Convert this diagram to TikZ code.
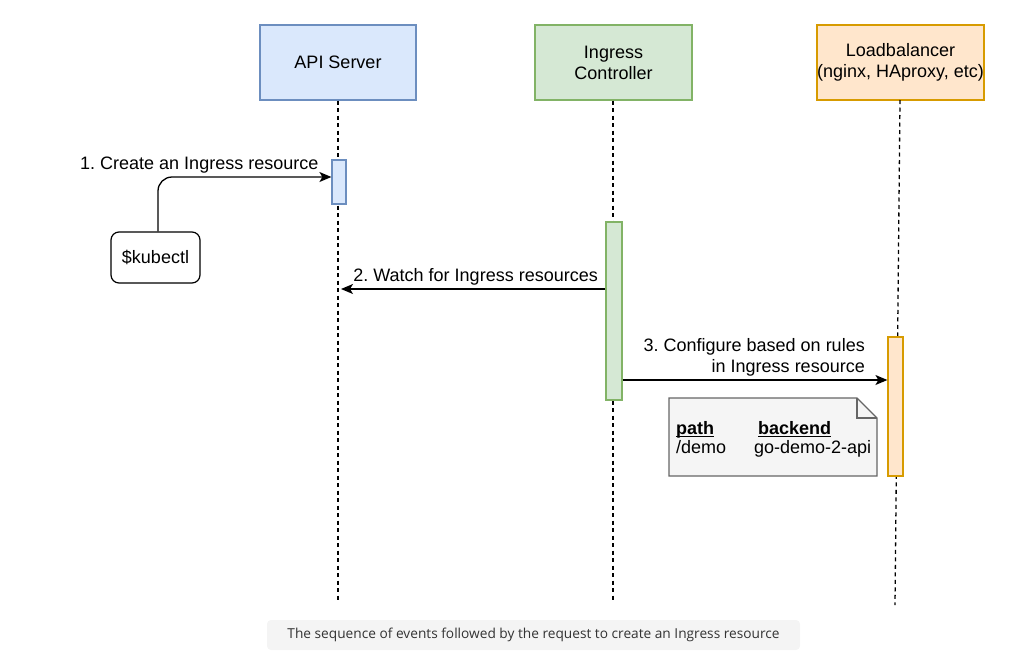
\documentclass[tikz,border=0pt]{standalone}
\usepackage{fontspec}
\setmainfont{Liberation Sans}
\newfontfamily\capfont{Open Sans}
\usetikzlibrary{arrows.meta}
\definecolor{bluefill}{HTML}{DAE8FC}
\definecolor{bluedraw}{HTML}{6C8EBF}
\definecolor{greenfill}{HTML}{D5E8D4}
\definecolor{greendraw}{HTML}{82B366}
\definecolor{orangefill}{HTML}{FFE6CC}
\definecolor{orangedraw}{HTML}{D79B00}
\definecolor{notefill}{HTML}{F5F5F5}
\definecolor{notedraw}{HTML}{666666}
\definecolor{capfill}{HTML}{F4F4F4}
\definecolor{captext}{HTML}{333333}
\frenchspacing
\begin{document}
\begin{tikzpicture}[x=1pt,y=-1pt,
  font=\fontsize{18}{21}\selectfont,
  actor/.style={draw, line width=1.2pt, minimum height=75pt, align=center, inner sep=0pt},
  act/.style={draw, line width=1.2pt, inner sep=0pt},
  lifeline/.style={line width=1.3pt, dash pattern=on 4pt off 3.5pt},
  msg/.style={line width=1.3pt, -{Stealth[length=12pt,width=10pt,inset=3pt]}},
  lbl/.style={inner sep=0pt},
  uline/.style={line width=1.1pt}
]
\useasboundingbox (0,0) rectangle (1031,670);

% actors
\node[actor, fill=bluefill, draw=bluedraw, minimum width=156pt] (api) at (338,62.5) {API Server};
\node[actor, fill=greenfill, draw=greendraw, minimum width=157pt] (ing) at (613.5,62.5) {Ingress\\Controller};
\node[actor, fill=orangefill, draw=orangedraw, minimum width=167pt] (lb) at (900.5,62.5) {Loadbalancer\\(nginx, HAproxy, etc)};

% lifeline ends
\coordinate (apiend) at (338,603);
\coordinate (ingend) at (613,603);
\coordinate (lbtop) at (900,100);
\coordinate (lbend) at (895,605);
\draw[lifeline] (api.south -| apiend) -- (apiend);
\draw[lifeline] (ing.south -| ingend) -- (ingend);
\draw[lifeline] (lbtop) -- (lbend);

% activations
\node[act, fill=bluefill, draw=bluedraw, minimum width=14pt, minimum height=44pt] (a1) at (339,182) {};
\node[act, fill=greenfill, draw=greendraw, minimum width=16pt, minimum height=178pt] (a2) at (614,311) {};
\node[act, fill=orangefill, draw=orangedraw, minimum width=15pt, minimum height=139pt] (a3) at (895.5,406.5) {};

% kubectl
\node[draw, line width=1.2pt, rounded corners=8pt, fill=white, minimum width=89pt, minimum height=51pt, inner sep=0pt] (kube) at (155.5,257.5) {\$kubectl};

% message 1
\coordinate (m1) at (158,177);
\draw[msg, rounded corners=14pt] (kube.north -| m1) -- (m1) -- (a1.west |- m1);
\node[lbl, anchor=base west] (l1) at (80,169) {1. Create an Ingress resource};

% message 2
\coordinate (m2) at (341,289);
\draw[msg] (a2.west |- m2) -- (m2);
\node[lbl, anchor=base east] (l2) at (598,281) {2. Watch for Ingress resources};

% message 3
\coordinate (m3) at (0,380);
\draw[msg] (a2.east |- m3) -- (a3.west |- m3);
\node[lbl, anchor=base east] (l3a) at (865,351) {3. Configure based on rules};
\node[lbl, anchor=base east] (l3b) at (865,372) {in Ingress resource};

% note
\draw[line width=1.2pt, draw=notedraw, fill=notefill] (669,398) -- (857,398) -- (877,418) -- (877,476) -- (669,476) -- cycle;
\draw[line width=1.2pt, draw=notedraw] (857,398) -- (857,418) -- (877,418);
\node[lbl, anchor=base west] (np) at (676,434) {\textbf{path}};
\node[lbl, anchor=base west] (nb) at (758,434) {\textbf{backend}};
\draw[uline] ([yshift=-2.2pt]np.base west) -- ([yshift=-2.2pt]np.base east);
\draw[uline] ([yshift=-2.2pt]nb.base west) -- ([yshift=-2.2pt]nb.base east);
\node[lbl, anchor=base west] (nd) at (676,453) {/demo};
\node[lbl, anchor=base west] (ng) at (754,453) {go-demo-2-api};

% caption
\node[fill=capfill, rounded corners=4pt, minimum width=533pt, minimum height=30pt, inner sep=0pt, text=captext, font=\capfont\fontsize{13.7}{16}\selectfont] (cap) at (533.5,635) {The sequence of events followed by the request to create an Ingress resource};
\end{tikzpicture}
\end{document}
